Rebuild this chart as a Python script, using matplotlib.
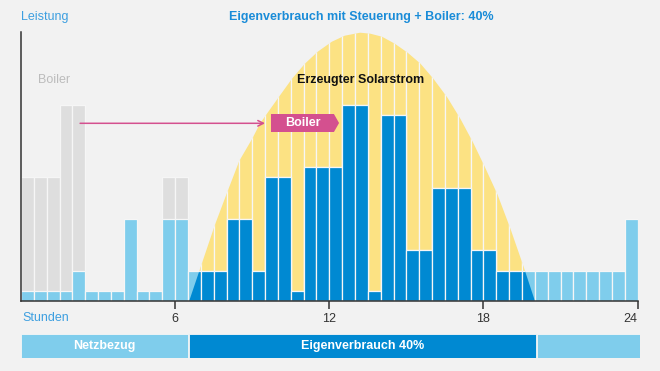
import matplotlib.pyplot as plt
from matplotlib.patches import Polygon
from matplotlib import font_manager

# --- data (heights in chart units) ---
slot_start = [i * 0.5 for i in range(48)]          # half-hour slots
consumption = [10, 10, 10, 10, 30, 10, 10, 10, 82, 10, 10, 82, 82,
               30, 30, 30, 82, 82, 30, 124, 124, 10, 134, 134, 134,
               196, 196, 10, 186, 186, 51, 51, 113, 113, 113, 51, 51,
               30, 30, 30, 30, 30, 30, 30, 30, 30, 30, 82]
boiler_slots = [0, 1, 2, 3, 4, 11, 12]
boiler_top = [124, 124, 124, 196, 196, 124, 124]

sun_hours = [6.55, 7.05, 7.55, 8.05, 8.5, 9.0, 9.3, 9.6, 10.1, 10.55, 11.05,
             11.55, 12.1, 12.6, 13.2, 13.6, 14.05, 14.55, 15.05, 15.55,
             16.05, 16.6, 17.1, 17.6, 18.05, 18.55, 19.05, 19.55, 20.0]
sun_power = [0, 38, 76, 110, 140, 162, 177, 188, 206, 222, 237, 249, 259,
             265, 268, 267, 264, 257, 248, 237, 222, 203, 182, 158, 134,
             106, 72, 35, 0]

strip_start = [0, 6.54, 20.1]
strip_len = [6.5, 13.51, 4.0]
strip_label = ['Netzbezug', 'Eigenverbrauch 40%', '']

xticks = [6, 12, 18, 24]

BG = '#f2f2f2'
GAP = '#f6f6f6'
YELLOW = '#fce283'
DARK = '#0089d2'
LIGHT = '#7fcdec'
GREY = '#dedede'
PINK = '#d4508f'
TITLE = '#1a8cd8'
SOFT = '#3d9fe0'

names = {f.name for f in font_manager.fontManager.ttflist}
FONT = 'Liberation Sans'
NARROW = 'Liberation Sans Narrow' if 'Liberation Sans Narrow' in names else FONT
plt.rcParams['font.family'] = [FONT, 'DejaVu Sans']

W, H = 660, 371
fig = plt.figure(figsize=(6.6, 3.71), dpi=100, facecolor=BG)
ax = fig.add_axes([21 / W, (H - 300.7) / H, 616.6 / W, 268.7 / H], facecolor=BG)
ax.set_xlim(0, 24)
ax.set_ylim(0, 268.7)

# boiler (grey) behind everything
ax.bar([slot_start[i] for i in boiler_slots], boiler_top, width=0.5, align='edge',
       color=GREY, edgecolor=GAP, linewidth=0.9, zorder=1)

# sun area, cut into half-hour stripes
sun = Polygon(list(zip(sun_hours, sun_power)), closed=True,
              facecolor='none', edgecolor='none')
ax.add_patch(sun)
ystripes = ax.bar(slot_start, [270] * 48, width=0.5, align='edge',
                  color=YELLOW, edgecolor=GAP, linewidth=0.9, zorder=2)
for b in ystripes:
    b.set_clip_path(sun)

# consumption: light blue from grid, dark blue inside the sun
ax.bar(slot_start, consumption, width=0.5, align='edge',
       color=LIGHT, edgecolor=GAP, linewidth=0.9, zorder=3)
dbars = ax.bar(slot_start, consumption, width=0.5, align='edge',
               color=DARK, edgecolor=GAP, linewidth=0.9, zorder=4)
for b in dbars:
    b.set_clip_path(sun)

for s in ['top', 'right']:
    ax.spines[s].set_visible(False)
for s in ['left', 'bottom']:
    ax.spines[s].set_color('#333333')
    ax.spines[s].set_linewidth(1.1)
    ax.spines[s].set_zorder(6)
ax.set_yticks([])
ax.set_xticks(xticks)
ax.set_xticklabels([str(t) for t in xticks], fontsize=9, color='#333333', family=NARROW)
ax.get_xticklabels()[-1].set_ha('right')
ax.tick_params(axis='x', length=6, width=1.1, color='#333333', pad=3)

# boiler arrow + label
ax.annotate('', xy=(9.5, 177.4), xytext=(2.3, 177.4),
            arrowprops=dict(arrowstyle='->', color=PINK, lw=1.1,
                            mutation_scale=10, shrinkA=0, shrinkB=0), zorder=7)
tag = Polygon([(9.73, 186.7), (12.18, 186.7), (12.38, 177.7), (12.18, 168.7),
               (9.73, 168.7)], closed=True, facecolor=PINK, edgecolor='none', zorder=7)
ax.add_patch(tag)
ax.text(10.96, 177.7, 'Boiler', color='white', fontsize=9, fontweight='bold',
        ha='center', va='center', zorder=8)

# texts
fig.text(21 / W, 1 - 17 / H, 'Leistung', color=SOFT, fontsize=9, va='center', ha='left')
fig.text(361 / W, 1 - 17 / H, 'Eigenverbrauch mit Steuerung + Boiler: 40%',
         color=TITLE, fontsize=9, fontweight='bold', va='center', ha='center')
fig.text(38 / W, 1 - 80 / H, 'Boiler', color='#bcbcbc', fontsize=9, va='center', ha='left')
fig.text(361 / W, 1 - 80 / H, 'Erzeugter Solarstrom', color='#111111', fontsize=9,
         fontweight='bold', va='center', ha='center')
fig.text(22 / W, 1 - 318 / H, 'Stunden', color=SOFT, fontsize=9, va='center', ha='left')

# bottom strip
ax2 = fig.add_axes([21 / W, (H - 358) / H, 619 / W, 24 / H], facecolor=BG)
ax2.set_xlim(0, 619 / 25.69)
ax2.set_ylim(0, 1)
ax2.barh([0.5] * 3, strip_len, left=strip_start, height=1,
         color=[LIGHT, DARK, LIGHT], edgecolor=GAP, linewidth=0.6)
for x0, w, lab in zip(strip_start, strip_len, strip_label):
    ax2.text(x0 + w / 2, 0.5, lab, color='white', fontsize=9, fontweight='bold',
             ha='center', va='center', family=NARROW)
ax2.axis('off')

fig.savefig('out.png', dpi=100, facecolor=BG)
